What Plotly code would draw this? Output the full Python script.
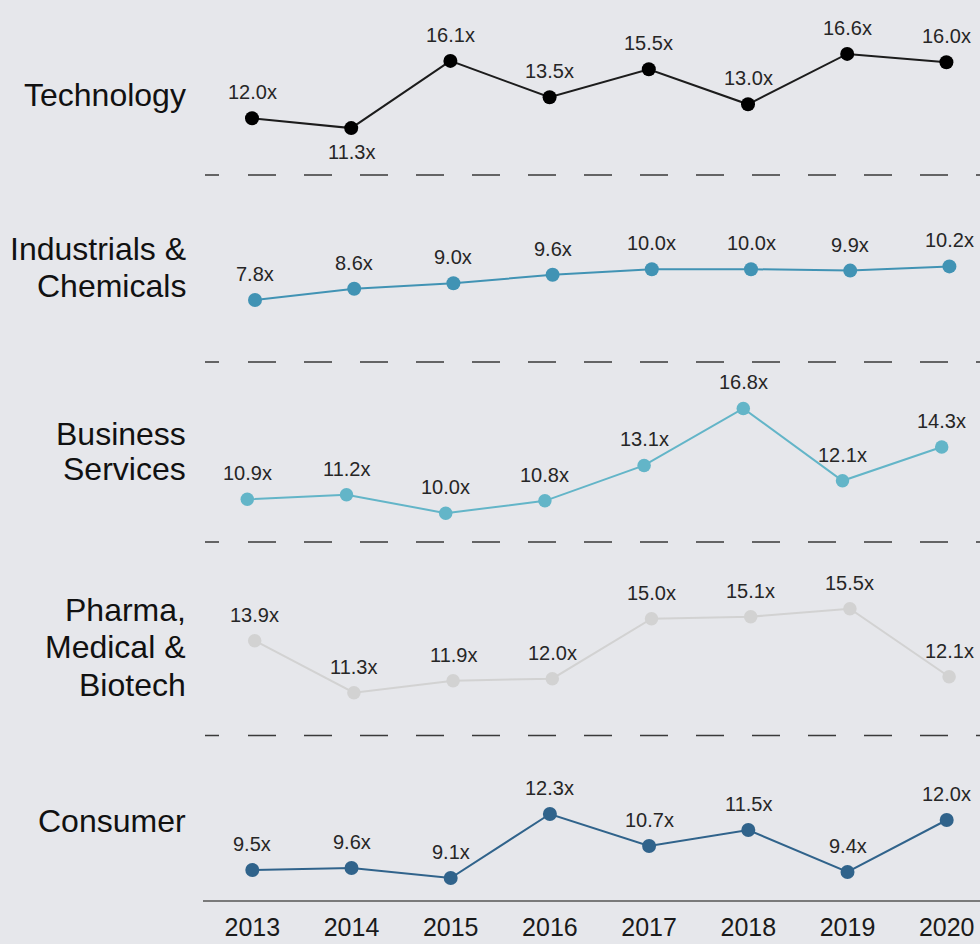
import plotly.graph_objects as go

years = [2013, 2014, 2015, 2016, 2017, 2018, 2019, 2020]
year_labels = ["2013", "2014", "2015", "2016", "2017", "2018", "2019", "2020"]

sectors = ["Technology", "Industrials & Chemicals", "Business Services",
           "Pharma, Medical & Biotech", "Consumer"]

technology = [12.0, 11.3, 16.1, 13.5, 15.5, 13.0, 16.6, 16.0]
industrials = [7.8, 8.6, 9.0, 9.6, 10.0, 10.0, 9.9, 10.2]
business = [10.9, 11.2, 10.0, 10.8, 13.1, 16.8, 12.1, 14.3]
pharma = [13.9, 11.3, 11.9, 12.0, 15.0, 15.1, 15.5, 12.1]
consumer = [9.5, 9.6, 9.1, 12.3, 10.7, 11.5, 9.4, 12.0]

series = [technology, industrials, business, pharma, consumer]

# ---- styling -------------------------------------------------------------
W, H = 980, 944
ML, MR, MT, MB = 203, 0, 0, 44
PW, PH = W - ML - MR, H - MT - MB

colors = ["#000000", "#4193b4", "#63b5c8", "#d2d2d2", "#30638b"]
line_colors = ["#1c1c1c", "#4193b4", "#63b5c8", "#d2d2d2", "#30638b"]
marker_sizes = [14, 14, 13.5, 13.5, 14]
label_lines = [["Technology"], ["Industrials &", "Chemicals"],
               ["Business", "Services"], ["Pharma,", "Medical &", "Biotech"],
               ["Consumer"]]
label_centers_px = [[95], [249, 285.7], [434.2, 468.8], [610, 647.3, 684.7], [820.7]]
below_labels = {0: [2014]}
shift_above, shift_below = 26, -24

# panel bands (pixel rows inside plot area) and y scale
panel_px = [(0, 175), (175, 362), (362, 542), (542, 735.5), (735.5, 900)]
y_ranges = [(7.95, 20.45), (3.371, 16.729), (8.127, 19.816), (9.16, 18.835), (8.0, 16.225)]
x_first_px = [252, 255, 247.3, 254.7, 252.3]
x_step_px = 99.2

FONT = "Liberation Sans, Arial, sans-serif"
BG = "#e6e7eb"


def fy(px):
    return (PH - px) / PH


fig = go.Figure()
layout = {}
annotations = []
for i, vals in enumerate(series):
    n = "" if i == 0 else str(i + 1)
    fig.add_trace(go.Scatter(
        x=years, y=vals, mode="lines+markers",
        xaxis="x" + n, yaxis="y" + n,
        line=dict(color=line_colors[i], width=2),
        marker=dict(color=colors[i], size=marker_sizes[i]),
        cliponaxis=False, showlegend=False, hoverinfo="skip",
    ))
    for yr, v in zip(years, vals):
        below = yr in below_labels.get(i, [])
        annotations.append(dict(
            x=yr, y=v, xref="x" + n, yref="y" + n, text=f"{v:.1f}x",
            showarrow=False, xanchor="center", yanchor="middle",
            yshift=shift_below if below else shift_above,
            font=dict(family=FONT, size=20, color="#262626"),
        ))
    a = x_first_px[i]
    xr = [years[0] - (a - ML) / x_step_px, years[0] + (W - MR - a) / x_step_px]
    last = i == len(series) - 1
    layout["xaxis" + n] = dict(
        domain=[0, 1], range=xr, anchor="y" + n, automargin=False,
        showgrid=False, zeroline=False,
        showline=last, linecolor="#7a7a7a", linewidth=2,
        showticklabels=last, tickvals=years, ticktext=year_labels,
        ticks="", ticklabelstandoff=4,
        tickfont=dict(family=FONT, size=25, color="#1a1a1a"),
        fixedrange=True,
    )
    top, bot = panel_px[i]
    layout["yaxis" + n] = dict(
        domain=[fy(bot), fy(top)], range=list(y_ranges[i]), anchor="x" + n,
        automargin=False,
        showgrid=False, zeroline=False, showline=False, showticklabels=False,
        fixedrange=True,
    )

fig.update_layout(**layout)

dash = "14px,29px," + ",".join(["28px,28px"] * 14)
shapes = []
for i in range(len(series) - 1):
    yb = fy(panel_px[i][1])
    shapes.append(dict(type="line", xref="paper", yref="paper",
                       x0=2 / PW, x1=1, y0=yb, y1=yb,
                       line=dict(color="#3a3a3a", width=1.3, dash=dash)))

for lines, centers in zip(label_lines, label_centers_px):
    for t, c in zip(lines, centers):
        annotations.append(dict(
            text=t, xref="paper", yref="paper", x=-15 / PW, y=fy(c),
            xanchor="right", yanchor="middle", showarrow=False,
            font=dict(family=FONT, size=32, color="#111111"),
        ))

fig.update_layout(
    width=W, height=H,
    margin=dict(l=ML, r=MR, t=MT, b=MB, pad=0, autoexpand=False),
    paper_bgcolor=BG, plot_bgcolor=BG,
    shapes=shapes, annotations=annotations,
)

fig.write_html("out.html", config={"displayModeBar": False},
               post_script="document.body.style.margin='0';document.body.style.background='" + BG + "';")
